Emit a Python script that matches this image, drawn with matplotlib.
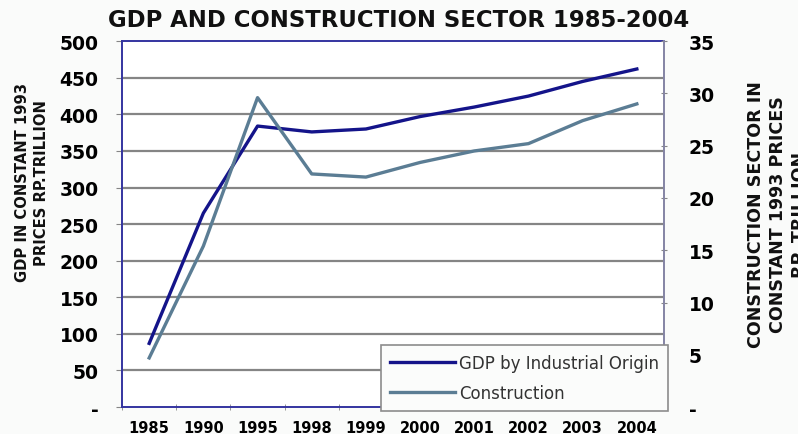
import numpy as np
import matplotlib
matplotlib.use("Agg")
import matplotlib.pyplot as plt
from matplotlib.ticker import FixedLocator, FuncFormatter

# data, Rp trillion at constant 1993 prices
years = ["1985", "1990", "1995", "1998", "1999", "2000", "2001", "2002", "2003", "2004"]
gdp = [87, 265, 384, 376, 380, 397, 410, 425, 445, 462]
construction = [4.7, 15.4, 29.6, 22.3, 22.0, 23.4, 24.5, 25.2, 27.4, 29.0]

left_ticks = list(range(0, 501, 50))
right_ticks = list(range(0, 36, 5))

gdp_color = "#14148a"
con_color = "#5b7d94"
grid_color = "#858585"

fig = plt.figure(figsize=(7.98, 4.35), dpi=100, facecolor="#fafbfa")
ax = fig.add_axes([0.153, 0.062, 0.679, 0.841])
ax2 = ax.twinx()

x = np.arange(len(years))
ln1, = ax.plot(x, gdp, color=gdp_color, lw=2.4, label="GDP by Industrial Origin", zorder=3)
ln2, = ax2.plot(x, construction, color=con_color, lw=2.4, label="Construction", zorder=3)

ax.set_xlim(-0.5, len(years) - 0.5)
ax.set_ylim(0, 500)
ax2.set_ylim(0, 35)

def dash_zero(v, pos):
    return "-" if v == 0 else f"{v:g}"

ax.yaxis.set_major_locator(FixedLocator(left_ticks))
ax.yaxis.set_major_formatter(FuncFormatter(dash_zero))
ax2.yaxis.set_major_locator(FixedLocator(right_ticks))
ax2.yaxis.set_major_formatter(FuncFormatter(dash_zero))

# category labels at centres, tick marks on the boundaries
ax.set_xticks(x)
ax.set_xticklabels(years)
ax.set_xticks(np.arange(-0.5, len(years)), minor=True)
ax.tick_params(axis="x", which="major", length=0, pad=9.5, labelsize=10.5)
ax.tick_params(axis="x", which="minor", length=5, color=grid_color, direction="inout")
for t in ax.get_xticklabels():
    t.set_fontweight("bold")

ax.tick_params(axis="y", length=4, color=grid_color, labelsize=13.5, pad=13)
ax2.tick_params(axis="y", length=4, color=grid_color, labelsize=13.5, pad=16, direction="inout")
for t in ax.get_yticklabels() + ax2.get_yticklabels():
    t.set_fontweight("bold")

# horizontal grid lines
for v in left_ticks[1:-1]:
    ax.axhline(v, color=grid_color, lw=1.6, zorder=1)

for s in ["left", "top", "bottom"]:
    ax.spines[s].set_color("#3434a0")
    ax.spines[s].set_linewidth(1.4)
ax.spines["right"].set_visible(False)
for s in ["left", "top", "bottom"]:
    ax2.spines[s].set_visible(False)
ax2.spines["right"].set_color("#8484a4")
ax2.spines["right"].set_linewidth(1.4)

fig.text(0.5, 0.953, "GDP AND CONSTRUCTION SECTOR 1985-2004", ha="center", va="center",
         fontsize=16.4, fontweight="bold", color="#111111")

fig.text(0.04, 0.58, "GDP IN CONSTANT 1993\nPRICES RP.TRILLION", rotation=90,
         ha="center", va="center", multialignment="center", fontsize=10.6,
         fontweight="bold", linespacing=1.35, color="#111111")
fig.text(0.975, 0.506, "CONSTRUCTION SECTOR IN\nCONSTANT 1993 PRICES\nRP. TRILLION", rotation=90,
         ha="center", va="center", multialignment="center", fontsize=12.6,
         fontweight="bold", linespacing=1.3, color="#111111")

leg = fig.legend(handles=[ln1, ln2], loc="lower right", bbox_to_anchor=(0.837, 0.052),
                 fontsize=12, handlelength=3.9, handletextpad=0.2, labelspacing=0.75,
                 fancybox=False, framealpha=1, borderpad=0.55, borderaxespad=0)
leg.get_frame().set_edgecolor("#8c8c8c")
leg.get_frame().set_facecolor("#fbfcfb")
leg.get_frame().set_linewidth(1.2)
for t in leg.get_texts():
    t.set_color("#333333")

fig.savefig("out.png", dpi=100, facecolor=fig.get_facecolor())
